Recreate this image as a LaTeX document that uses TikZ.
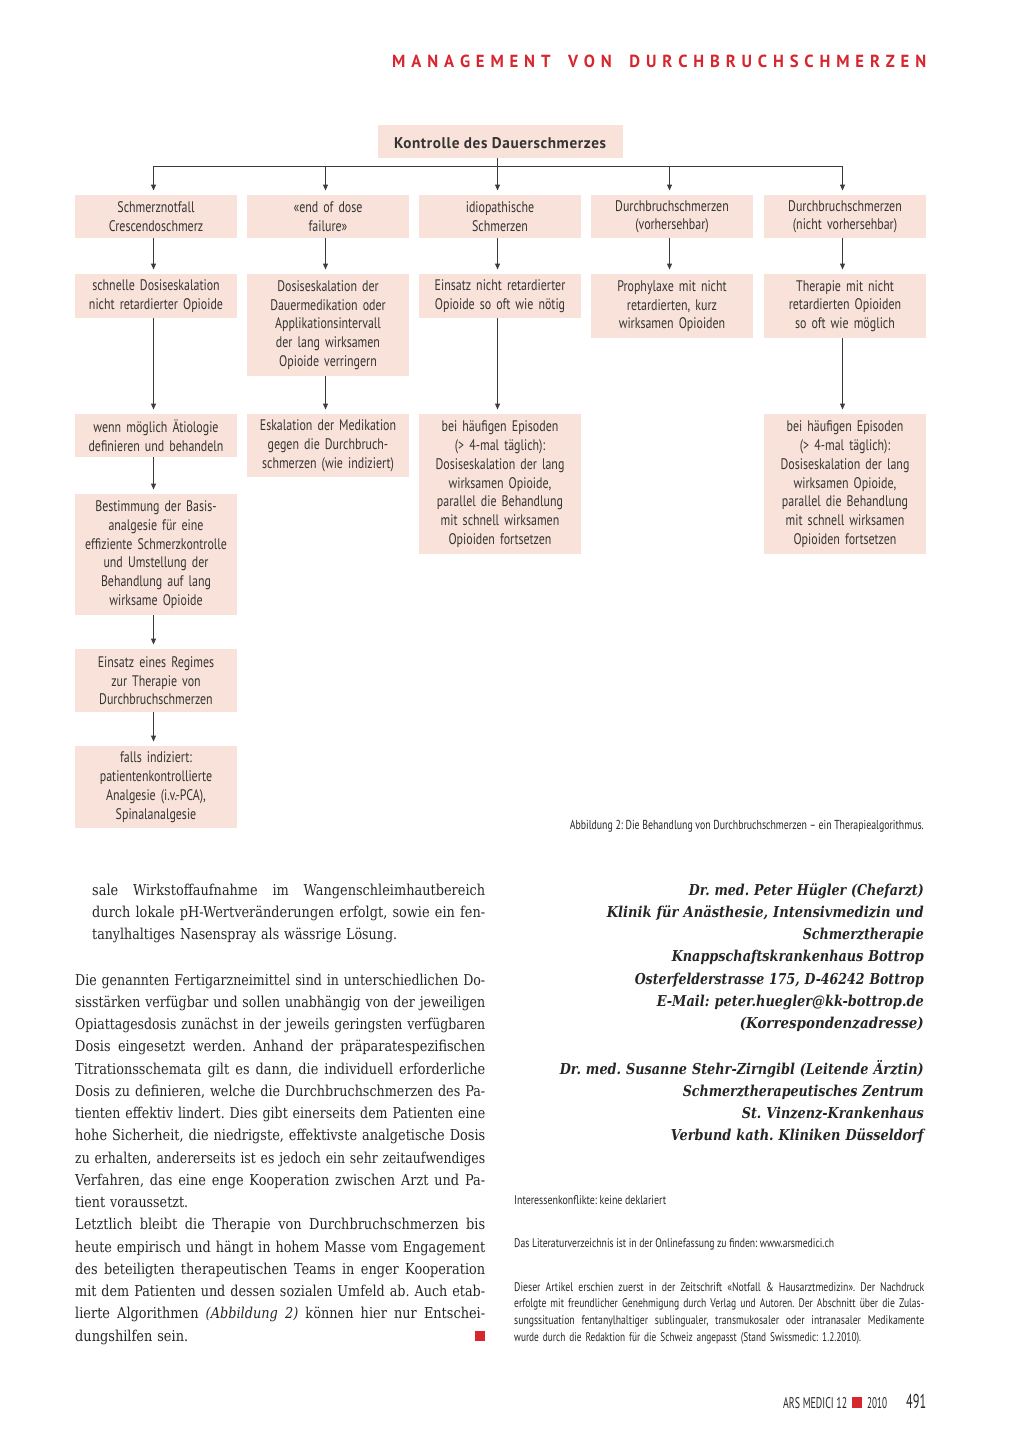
\documentclass[tikz,border=0pt]{standalone}
\usepackage{fontspec}
\usepackage{graphicx}
\usetikzlibrary{arrows.meta}
\setmainfont{DejaVu Serif}[FakeStretch=0.86]
\newfontfamily\cond{PT Sans}[FakeStretch=0.78]
\newfontfamily\headsans{PT Sans}[FakeStretch=0.95]
\newfontfamily\topfont{PT Sans}[LetterSpace=4]
\definecolor{boxpink}{HTML}{F8E2D9}
\definecolor{boxtxt}{HTML}{353535}
\definecolor{bodytxt}{HTML}{262626}
\definecolor{linegray}{HTML}{3C3C3C}
\definecolor{hred}{HTML}{D7262E}
\frenchspacing
\newsavebox\jlbox
\newcommand\jl[2]{\sbox\jlbox{#2}\ifdim\wd\jlbox>#1\relax\resizebox{#1}{\height}{\usebox\jlbox}\else\makebox[#1][s]{\spaceskip=\fontdimen2\font plus 1fil\relax\xspaceskip=\spaceskip #2}\fi}
\newcommand\fitw[2]{\resizebox{#1}{\height}{#2}}
\tikzset{
  bx/.style={fill=boxpink, inner sep=0pt, minimum width=162pt, text width=160pt,
    align=center, anchor=north, font=\cond\fontsize{15.3}{18.8}\selectfont, text=boxtxt},
  arr/.style={draw=linegray, line width=1pt, -{Triangle[length=6pt,width=5pt]}, shorten >=4.5pt},
  body/.style={inner sep=0pt, font=\fontsize{15}{22.25}\selectfont, text=bodytxt},
  author/.style={inner sep=0pt, font=\fontsize{15}{22.25}\selectfont\bfseries\itshape, text=bodytxt, align=right, text width=420pt, anchor=base east},
  foot/.style={inner sep=0pt, font=\cond\fontsize{12.5}{16.9}\selectfont, text=bodytxt, anchor=base west},
  redsq/.style={fill=hred, inner sep=0pt}
}
\begin{document}
\begin{tikzpicture}[x=1pt,y=-1pt]
\fill[white] (0,0) rectangle (1024,1448);
\useasboundingbox (0,0) rectangle (1024,1448);

% headline
\node[inner sep=0pt, anchor=base west, text=hred, font=\headsans\bfseries\fontsize{17.5}{20}\selectfont] (headline) at (392,67)
 {\hbox to 534pt{M\hfill A\hfill N\hfill A\hfill G\hfill E\hfill M\hfill E\hfill N\hfill T\hfill\hfill\hfill V\hfill O\hfill N\hfill\hfill\hfill D\hfill U\hfill R\hfill C\hfill H\hfill B\hfill R\hfill U\hfill C\hfill H\hfill S\hfill C\hfill H\hfill M\hfill E\hfill R\hfill Z\hfill E\hfill N}};

% top box
\node[fill=boxpink, inner sep=0pt, minimum width=245pt, minimum height=33pt, text=boxtxt,
  font=\topfont\bfseries\fontsize{15.5}{18}\selectfont] (top) at (500,141.5)
  {\raisebox{-6.5pt}[0pt][0pt]{\fitw{212pt}{Kontrolle des Dauerschmerzes}}};

% row 1
\node[bx, minimum height=43pt] (r1c1) at (156,195) {Schmerznotfall\\Crescendoschmerz};
\node[bx, minimum height=43pt] (r1c2) at (328,195) {«end of dose\\failure»};
\node[bx, minimum height=43pt] (r1c3) at (500,195) {idiopathische\\Schmerzen};
\node[bx, minimum height=43pt] (r1c4) at (672,195) {Durchbruchschmerzen\\(vorhersehbar)};
\node[bx, minimum height=43pt] (r1c5) at (845,195) {Durchbruchschmerzen\\(nicht vorhersehbar)};

% row 2
\node[bx, minimum height=44pt] (r2c1) at (156,274) {schnelle Dosiseskalation\\nicht retardierter Opioide};
\node[bx, minimum height=102pt] (r2c2) at (328,274) {Dosiseskalation der\\Dauermedikation oder\\Applikationsintervall\\der lang wirksamen\\Opioide verringern};
\node[bx, minimum height=44pt] (r2c3) at (500,274) {Einsatz nicht retardierter\\Opioide so oft wie nötig};
\node[bx, minimum height=64pt] (r2c4) at (672,274) {Prophylaxe mit nicht\\retardierten, kurz\\wirksamen Opioiden};
\node[bx, minimum height=64pt] (r2c5) at (845,274) {Therapie mit nicht\\retardierten Opioiden\\so oft wie möglich};

% row 3
\node[bx, minimum height=43pt] (r3c1) at (156,414) {wenn möglich Ätiologie\\definieren und behandeln};
\node[bx, minimum height=63pt] (r3c2) at (328,414) {Eskalation der Medikation\\gegen die Durchbruch-\\schmerzen (wie indiziert)};
\node[bx, minimum height=140pt] (r3c3) at (500,414) {bei häufigen Episoden\\(> 4-mal täglich):\\Dosiseskalation der lang\\wirksamen Opioide,\\parallel die Behandlung\\mit schnell wirksamen\\Opioiden fortsetzen};
\node[bx, minimum height=140pt] (r3c5) at (845,414) {bei häufigen Episoden\\(> 4-mal täglich):\\Dosiseskalation der lang\\wirksamen Opioide,\\parallel die Behandlung\\mit schnell wirksamen\\Opioiden fortsetzen};

% rows 4-6, column 1
\node[bx, minimum height=121pt] (r4c1) at (156,494) {Bestimmung der Basis-\\analgesie für eine\\effiziente Schmerzkontrolle\\und Umstellung der\\Behandlung auf lang\\wirksame Opioide};
\node[bx, minimum height=63pt] (r5c1) at (156,649) {Einsatz eines Regimes\\zur Therapie von\\Durchbruchschmerzen};
\node[bx, minimum height=82pt] (r6c1) at (156,746) {falls indiziert:\\patientenkontrollierte\\Analgesie (i.v.-PCA),\\Spinalanalgesie};

% connectors (arrows run 2.5pt left of the box centres, as in the original)
\def\ax{-2.5pt}
\draw[arr] ([xshift=\ax]top.south) -- ++(0,8) -| ([xshift=\ax]r1c1.north);
\draw[arr] ([xshift=\ax]top.south) -- ++(0,8) -| ([xshift=\ax]r1c2.north);
\draw[arr] ([xshift=\ax]top.south) -- ([xshift=\ax]r1c3.north);
\draw[arr] ([xshift=\ax]top.south) -- ++(0,8) -| ([xshift=\ax]r1c4.north);
\draw[arr] ([xshift=\ax]top.south) -- ++(0,8) -| ([xshift=\ax]r1c5.north);
\draw[arr] ([xshift=\ax]r1c1.south) -- ([xshift=\ax]r2c1.north);
\draw[arr] ([xshift=\ax]r1c2.south) -- ([xshift=\ax]r2c2.north);
\draw[arr] ([xshift=\ax]r1c3.south) -- ([xshift=\ax]r2c3.north);
\draw[arr] ([xshift=\ax]r1c4.south) -- ([xshift=\ax]r2c4.north);
\draw[arr] ([xshift=\ax]r1c5.south) -- ([xshift=\ax]r2c5.north);
\draw[arr] ([xshift=\ax]r2c1.south) -- ([xshift=\ax]r3c1.north);
\draw[arr] ([xshift=\ax]r2c2.south) -- ([xshift=\ax]r3c2.north);
\draw[arr] ([xshift=\ax]r2c3.south) -- ([xshift=\ax]r3c3.north);
\draw[arr] ([xshift=\ax]r2c5.south) -- ([xshift=\ax]r3c5.north);
\draw[arr] ([xshift=\ax]r3c1.south) -- ([xshift=\ax]r4c1.north);
\draw[arr] ([xshift=\ax]r4c1.south) -- ([xshift=\ax]r5c1.north);
\draw[arr] ([xshift=\ax]r5c1.south) -- ([xshift=\ax]r6c1.north);

% caption
\node[inner sep=0pt, anchor=base east, text=bodytxt, font=\cond\fontsize{13}{15}\selectfont] (caption) at (924,829)
 {\fitw{354pt}{Abbildung 2: Die Behandlung von Durchbruchschmerzen – ein Therapiealgorithmus.}};

% left column text
\node[body, text width=393pt, anchor=base west] (p1) at (92,895) {%
\jl{393pt}{sale Wirkstoffaufnahme im Wangenschleimhautbereich}\\
\jl{393pt}{durch lokale pH-Wertveränderungen erfolgt, sowie ein fen-}\\
\fitw{305pt}{tanylhaltiges Nasenspray als wässrige Lösung.}};

\node[body, text width=410pt, anchor=base west] (p2) at (75,985) {%
\jl{410pt}{Die genannten Fertigarzneimittel sind in unterschiedlichen Do-}\\
\jl{410pt}{sisstärken verfügbar und sollen unabhängig von der jeweiligen}\\
\jl{410pt}{Opiattagesdosis zunächst in der jeweils geringsten verfügbaren}\\
\jl{410pt}{Dosis eingesetzt werden. Anhand der präparatespezifischen}\\
\jl{410pt}{Titrationsschemata gilt es dann, die individuell erforderliche}\\
\jl{410pt}{Dosis zu definieren, welche die Durchbruchschmerzen des Pa-}\\
\jl{410pt}{tienten effektiv lindert. Dies gibt einerseits dem Patienten eine}\\
\jl{410pt}{hohe Sicherheit, die niedrigste, effektivste analgetische Dosis}\\
\jl{410pt}{zu erhalten, andererseits ist es jedoch ein sehr zeitaufwendiges}\\
\jl{410pt}{Verfahren, das eine enge Kooperation zwischen Arzt und Pa-}\\
\fitw{113pt}{tient voraussetzt.}\\
\jl{410pt}{Letztlich bleibt die Therapie von Durchbruchschmerzen bis}\\
\jl{410pt}{heute empirisch und hängt in hohem Masse vom Engagement}\\
\jl{410pt}{des beteiligten therapeutischen Teams in enger Kooperation}\\
\jl{410pt}{mit dem Patienten und dessen sozialen Umfeld ab. Auch etab-}\\
\jl{410pt}{lierte Algorithmen \textit{(Abbildung 2)} können hier nur Entschei-}\\
\fitw{113pt}{dungshilfen sein.}};
\node[redsq, minimum width=10pt, minimum height=10pt] (endmark) at (480,1336) {};

% right column: authors
\node[author] (auth1) at (924,895) {%
\fitw{235pt}{Dr. med. Peter Hügler (Chefarzt)}\\
\fitw{317pt}{Klinik für Anästhesie, Intensivmedizin und}\\
\fitw{121pt}{Schmerztherapie}\\
\fitw{252pt}{Knappschaftskrankenhaus Bottrop}\\
\fitw{289pt}{Osterfelderstrasse 175, D-46242 Bottrop}\\
\fitw{267pt}{E-Mail: peter.huegler@kk-bottrop.de}\\
\fitw{184pt}{(Korrespondenzadresse)}};
\node[author] (auth2) at (924,1074) {%
\fitw{364pt}{Dr. med. Susanne Stehr-Zirngibl (Leitende Ärztin)}\\
\fitw{241pt}{Schmerztherapeutisches Zentrum}\\
\fitw{182pt}{St. Vinzenz-Krankenhaus}\\
\fitw{253pt}{Verbund kath. Kliniken Düsseldorf}};

% footnotes
\node[foot] (coi) at (514,1204) {\fitw{152pt}{Interessenkonflikte: keine deklariert}};
\node[foot] (lit) at (514,1247) {\fitw{320pt}{Das Literaturverzeichnis ist in der Onlinefassung zu finden: www.arsmedici.ch}};
\node[foot, text width=410pt] (note) at (514,1291) {%
\jl{410pt}{Dieser Artikel erschien zuerst in der Zeitschrift «Notfall \& Hausarztmedizin». Der Nachdruck}\\
\jl{410pt}{erfolgte mit freundlicher Genehmigung durch Verlag und Autoren. Der Abschnitt über die Zulas-}\\
\jl{410pt}{sungssituation fentanylhaltiger sublingualer, transmukosaler oder intranasaler Medikamente}\\
\fitw{347pt}{wurde durch die Redaktion für die Schweiz angepasst (Stand Swissmedic: 1.2.2010).}};

% footer
\node[inner sep=0pt, anchor=base west, text=bodytxt, font=\cond\fontsize{15.5}{18}\selectfont] (journal) at (783,1408) {\fitw{64pt}{ARS MEDICI 12}};
\node[redsq, minimum width=10pt, minimum height=11pt] (footsq) at (857,1402.5) {};
\node[inner sep=0pt, anchor=base west, text=bodytxt, font=\cond\fontsize{15.5}{18}\selectfont] (year) at (867,1408) {\fitw{20pt}{2010}};
\node[inner sep=0pt, anchor=base west, text=bodytxt, font=\cond\fontsize{20}{22}\selectfont] (page) at (906,1408) {\fitw{20pt}{491}};
\end{tikzpicture}
\end{document}
